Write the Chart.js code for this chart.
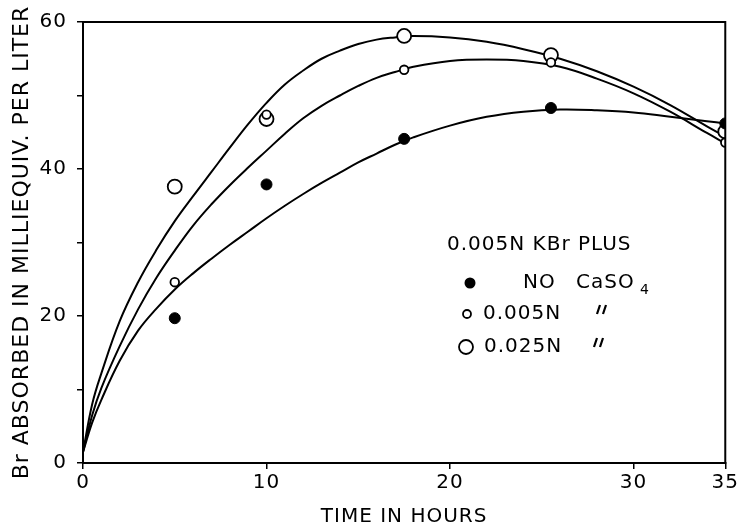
<!DOCTYPE html>
<html>
<head>
<meta charset="utf-8">
<script src="https://cdn.jsdelivr.net/npm/chart.js@4/dist/chart.umd.min.js"></script>
<style>
  html, body { margin: 0; padding: 0; background: #fff; }
  #wrap { width: 740px; height: 527px; }
</style>
</head>
<body>
<div id="wrap"><canvas id="c" width="740" height="527"></canvas></div>
<script>
// measured points
const hours = [5, 10, 17.5, 25.5, 35];
const noCaSO4 = [19.7, 37.9, 44.1, 48.3, 46.2];
const caSO4_005 = [24.6, 47.4, 53.5, 54.5, 43.6];
const caSO4_025 = [37.6, 46.8, 58.1, 55.5, 45.1];

// hand-drawn fitted curves
const curveHours = [0, 0.5, 1, 2, 3, 4, 5, 6, 7, 8, 9, 10, 11, 12, 13, 14, 15, 16, 17, 18, 20, 22, 24, 26, 28, 30, 32, 34, 35];
const curveNone = [1.5, 5.5, 8.6, 13.9, 18.0, 21.0, 23.6, 25.8, 27.8, 29.7, 31.5, 33.3, 35.0, 36.6, 38.1, 39.5, 40.9, 42.1, 43.3, 44.3, 45.9, 47.1, 47.8, 48.1, 48.0, 47.7, 47.1, 46.5, 46.2];
const curve005 = [1.5, 6.5, 10.2, 15.9, 20.9, 25.2, 28.9, 32.3, 35.2, 37.8, 40.2, 42.5, 44.8, 46.9, 48.6, 50.0, 51.3, 52.4, 53.2, 53.9, 54.7, 54.9, 54.7, 53.9, 52.3, 50.3, 47.8, 44.9, 43.5];
const curve025 = [1.5, 8.0, 12.2, 19.3, 24.6, 29.0, 32.9, 36.3, 39.6, 42.9, 46.1, 49.0, 51.5, 53.4, 55.0, 56.1, 57.0, 57.6, 57.9, 58.1, 57.9, 57.3, 56.3, 55.0, 53.3, 51.2, 48.7, 45.8, 44.4];

const xTicks = [0, 10, 20, 30, 35];
const yLabelled = [0, 20, 40, 60];

const pts = ys => hours.map((h, i) => ({ x: h, y: ys[i] }));
const curve = ys => curveHours.map((h, i) => ({ x: h, y: ys[i] }));

const FONT = "'DejaVu Sans', sans-serif";

const lineDs = ys => ({
  type: 'line',
  data: curve(ys),
  borderColor: '#000',
  borderWidth: 2,
  pointRadius: 0,
  fill: false,
  tension: 0.4
});

// two slanted strokes, like the hand-lettered ditto mark
function ditto(ctx, x, y) {
  ctx.beginPath();
  ctx.moveTo(x + 3, y - 5);
  ctx.lineTo(x, y + 4);
  ctx.moveTo(x + 9, y - 5);
  ctx.lineTo(x + 6, y + 4);
  ctx.stroke();
}

// box around plot + legend text inside the plot
const frame = {
  id: 'frame',
  beforeDraw(chart) {
    chart.ctx.letterSpacing = '1px';
  },
  afterDraw(chart) {
    const { ctx, chartArea: a } = chart;
    ctx.save();
    ctx.strokeStyle = '#000';
    ctx.lineWidth = 2;
    ctx.strokeRect(a.left, a.top, a.right - a.left, a.bottom - a.top);

    ctx.fillStyle = '#000';
    ctx.font = '20px ' + FONT;
    ctx.textBaseline = 'middle';
    ctx.fillText('0.005N KBr PLUS', 447, 245);

    ctx.beginPath();
    ctx.arc(470, 283, 5.5, 0, Math.PI * 2);
    ctx.fill();
    ctx.fillText('NO', 523, 283);
    ctx.fillText('CaSO', 576, 283);
    ctx.font = '14px ' + FONT;
    ctx.fillText('4', 640, 290);

    ctx.lineWidth = 1.8;
    ctx.beginPath();
    ctx.arc(467, 314, 4, 0, Math.PI * 2);
    ctx.stroke();
    ctx.font = '20px ' + FONT;
    ctx.fillText('0.005N', 483, 314);

    ctx.beginPath();
    ctx.arc(466, 347, 7, 0, Math.PI * 2);
    ctx.stroke();
    ctx.fillText('0.025N', 484, 347);

    ctx.lineWidth = 2.2;
    ditto(ctx, 597, 310);
    ditto(ctx, 594, 343);
    ctx.restore();
  }
};

new Chart(document.getElementById('c'), {
  type: 'scatter',
  data: {
    datasets: [
      { label: 'NO CaSO4', data: pts(noCaSO4), pointRadius: 5.5, pointBackgroundColor: '#000', pointBorderColor: '#000', pointBorderWidth: 1 },
      { label: '0.005N', data: pts(caSO4_005), pointRadius: 4.3, pointBackgroundColor: '#fff', pointBorderColor: '#000', pointBorderWidth: 1.8 },
      { label: '0.025N', data: pts(caSO4_025), pointRadius: 7, pointBackgroundColor: '#fff', pointBorderColor: '#000', pointBorderWidth: 1.8 },
      lineDs(curveNone),
      lineDs(curve005),
      lineDs(curve025)
    ]
  },
  options: {
    responsive: false,
    animation: false,
    layout: { padding: { top: 22, right: 4, left: 0, bottom: 0 } },
    plugins: { legend: { display: false }, tooltip: { enabled: false } },
    scales: {
      x: {
        type: 'linear',
        min: 0,
        max: 35,
        afterBuildTicks: s => { s.ticks = xTicks.map(v => ({ value: v })); },
        afterFit: s => { s.height = 64; },
        grid: { drawOnChartArea: false, color: '#000', tickLength: 6, lineWidth: 1.5 },
        border: { color: '#000', width: 2 },
        ticks: { color: '#000', font: { family: FONT, size: 20 }, padding: 2, maxRotation: 0 },
        title: { display: true, text: 'TIME IN HOURS', color: '#000', font: { family: FONT, size: 20, lineHeight: 1 }, padding: 0 }
      },
      y: {
        min: 0,
        max: 60,
        afterFit: s => { s.width = 83; },
        grid: { drawOnChartArea: false, color: '#000', tickLength: 6, lineWidth: 1.5 },
        border: { color: '#000', width: 2 },
        ticks: {
          stepSize: 10,
          color: '#000',
          font: { family: FONT, size: 20 },
          padding: 10,
          callback: v => (yLabelled.includes(v) ? v : '')
        },
        title: { display: true, text: 'Br ABSORBED IN MILLIEQUIV. PER LITER', color: '#000', font: { family: FONT, size: 22, lineHeight: 1 }, padding: { top: 11, bottom: 0 } }
      }
    }
  },
  plugins: [frame]
});
</script>
</body>
</html>
